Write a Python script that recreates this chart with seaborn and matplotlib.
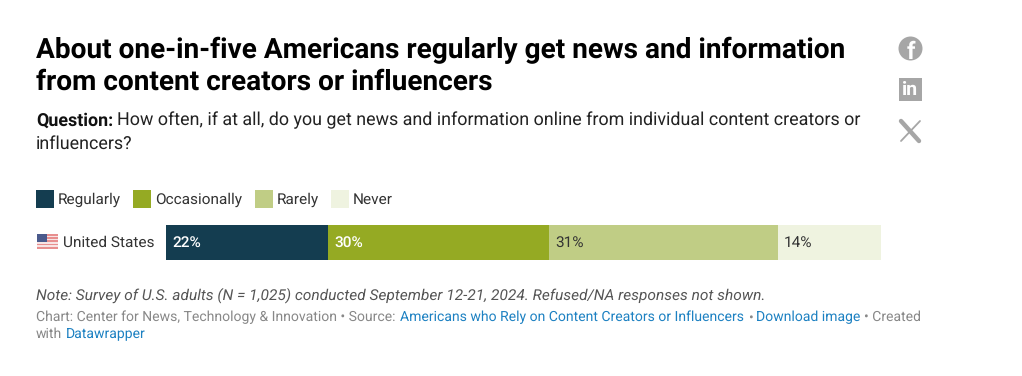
import matplotlib
matplotlib.use('Agg')
import numpy as np
import pandas as pd
import seaborn as sns
import matplotlib.pyplot as plt
from matplotlib.patches import Rectangle, Circle
from matplotlib.lines import Line2D

categories = ['Regularly', 'Occasionally', 'Rarely', 'Never']
values = [22, 30, 31, 14]
colors = ['#143d50', '#95aa23', '#c0cd85', '#eff3e0']
label_colors = ['white', 'white', '#333333', '#333333']
country = 'United States'

W, H = 1022, 376
sns.set_theme(style='white')
plt.rcParams['font.family'] = ['Roboto', 'DejaVu Sans']
plt.rcParams['text.hinting'] = 'no_hinting'

fig = plt.figure(figsize=(W / 100, H / 100), dpi=100, facecolor='white')


def txt(x, y, s, **kw):
    kw.setdefault('va', 'center')
    return fig.text(x / W, 1 - y / H, s, **kw)


def rect(x, y, w, h, **kw):
    fig.add_artist(Rectangle((x / W, 1 - (y + h) / H), w / W, h / H, transform=fig.transFigure, lw=0, **kw))


# title + question
txt(36, 50, 'About one-in-five Americans regularly get news and information', fontsize=20.2, fontweight='bold', color='black')
txt(36, 82.5, 'from content creators or influencers', fontsize=20.2, fontweight='bold', color='black')
txt(36, 120.5, 'Question:', fontsize=12.9, fontweight='bold', color='#111111')
txt(117, 120.5, 'How often, if at all, do you get news and information online from individual content creators or', fontsize=12.9, color='#222222')
txt(36, 143.5, 'influencers?', fontsize=12.9, color='#222222')

# legend
legend_x = [36, 133, 255, 331]
for name, col, lx in zip(categories, colors, legend_x):
    rect(lx, 190, 18, 18, color=col)
    txt(lx + 22, 200, name, fontsize=11.1, color='#333333')

# stacked bar, drawn back to front from cumulative values
ax = fig.add_axes([166 / W, 1 - 260 / H, 715 / W, 35 / H])
cum = np.cumsum(values)
for i in range(len(values) - 1, -1, -1):
    d = pd.DataFrame({'share': [cum[i]], 'country': [country]})
    sns.barplot(data=d, x='share', y='country', color=colors[i], saturation=1, width=1, ax=ax, orient='h', linewidth=0)
ax.set_xlim(0, cum[-1])
ax.set_ylim(0.5, -0.5)
ax.axis('off')
starts = cum - np.array(values)
for s, v, c in zip(starts, values, label_colors):
    ax.annotate(f'{v}%', (s, 0), xytext=(4.3, 0), textcoords='offset points', va='center', fontsize=11.1, color=c,
                fontweight='medium' if c == 'white' else 'normal')

txt(63, 242.5, country, fontsize=11.1, color='#333333')

# flag
rect(37, 234, 21, 15, color='#e88f8f')
for k in range(4):
    rect(37, 235.5 + k * 3.3, 21, 1.6, color='#f8e4e4')
rect(37, 234, 10, 8, color='#4a5a8c')

# footer
txt(36, 295, 'Note: Survey of U.S. adults (N = 1,025) conducted September 12-21, 2024. Refused/NA responses not shown.', fontsize=11.15, fontstyle='italic', color='#555555')
grey = '#888888'
blue = '#1d81c2'
foot = [(36, 'Chart: Center for News, Technology & Innovation • Source:', grey),
        (400, 'Americans who Rely on Content Creators or Influencers', blue),
        (748, '•', grey),
        (756, 'Download image', blue),
        (864, '• Created', grey)]
for fx, s, c in foot:
    txt(fx, 317.5, s, fontsize=10.1, color=c)
txt(36, 334.5, 'with', fontsize=10.1, color=grey)
txt(66, 334.5, 'Datawrapper', fontsize=10.1, color=blue)

# share icons
ic = '#a6a6a6'
fig.add_artist(Circle((910.5 / 100, (H - 48.5) / 100), 0.12, transform=fig.dpi_scale_trans, color=ic, lw=0))
txt(911, 52, 'f', fontsize=17, fontweight='bold', color='white', ha='center')
rect(899, 78, 23, 23, color=ic)
txt(910.5, 90, 'in', fontsize=14, fontweight='bold', color='white', ha='center')
fig.add_artist(Line2D([901 / W, 919 / W], [1 - 121 / H, 1 - 141 / H], color=ic, lw=3.2, transform=fig.transFigure))
fig.add_artist(Line2D([920 / W, 901 / W], [1 - 121 / H, 1 - 141 / H], color=ic, lw=1.3, transform=fig.transFigure))

fig.savefig('out.png', dpi=100, facecolor='white')
